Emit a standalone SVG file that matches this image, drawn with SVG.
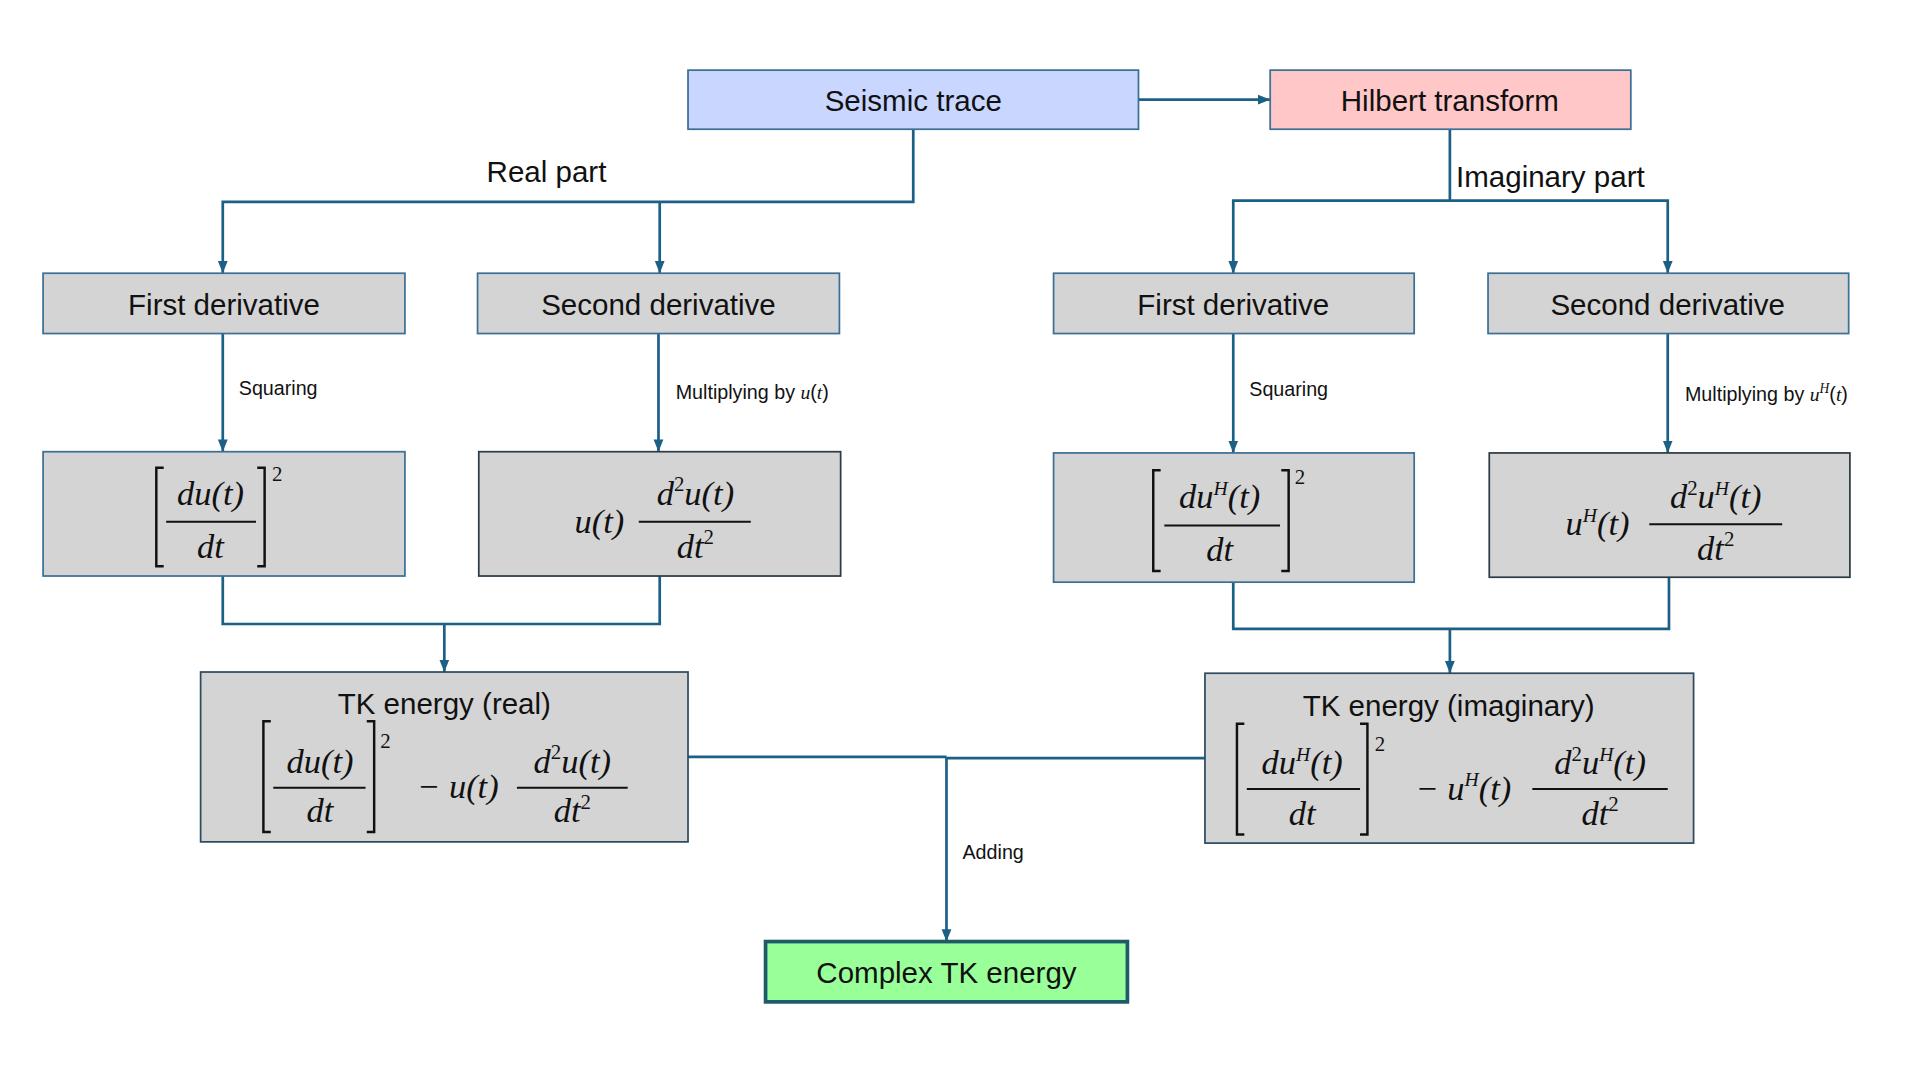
<svg xmlns="http://www.w3.org/2000/svg" width="1920" height="1080" viewBox="0 0 1920 1080">
<defs>
<marker id="ah" markerUnits="userSpaceOnUse" markerWidth="10" markerHeight="10" viewBox="0 0 10 10" refX="10" refY="5" orient="auto"><path d="M0,1 L10,5 L0,9 z" fill="#1d6086"/></marker>
<style>
.box{fill:#d4d4d4;stroke:#3b6f95;stroke-width:1.4}
.lbl{font-family:"Liberation Sans",Arial,sans-serif;font-size:24px;fill:#111;text-anchor:middle}
.sm{font-family:"Liberation Sans",Arial,sans-serif;font-size:16px;fill:#111}
.m{font-family:"Liberation Serif","Times New Roman",serif;font-style:italic;font-size:28px;fill:#111;text-anchor:middle}
.mi{font-family:"Liberation Serif","Times New Roman",serif;font-style:italic;fill:#111}
.sup{font-family:"Liberation Serif",serif;font-size:17px;fill:#111}
.fr{stroke:#111;stroke-width:1.6;fill:none}
.br{stroke:#111;stroke-width:2;fill:none}
.c{stroke:#1d6086;stroke-width:2.2;fill:none}
</style>
</defs>
<rect width="1920" height="1080" fill="#fff"/>
<g transform="scale(1.2308)">
<g id="connectors">
<path class="c" d="M925,81 H1032" marker-end="url(#ah)"/>
<path class="c" d="M742,105 V164 H181 V222" marker-end="url(#ah)"/>
<path class="c" d="M536,164 V222" marker-end="url(#ah)"/>
<path class="c" d="M1178,105 V163 H1002 V222" marker-end="url(#ah)"/>
<path class="c" d="M1178,163 H1355 V222" marker-end="url(#ah)"/>
<path class="c" d="M181,271 V367" marker-end="url(#ah)"/>
<path class="c" d="M535,271 V367" marker-end="url(#ah)"/>
<path class="c" d="M1002,271 V368" marker-end="url(#ah)"/>
<path class="c" d="M1355,271 V368" marker-end="url(#ah)"/>
<path class="c" d="M181,468 V507 H536 V468"/>
<path class="c" d="M361,507 V546" marker-end="url(#ah)"/>
<path class="c" d="M1002,473 V511 H1356 V469"/>
<path class="c" d="M1178,511 V547" marker-end="url(#ah)"/>
<path class="c" d="M559,615 H769 M769,616 H979"/>
<path class="c" d="M769,615 V765" marker-end="url(#ah)"/>
<text class="lbl" x="444" y="148">Real part</text>
<text class="lbl" x="1183" y="152" style="text-anchor:start">Imaginary part</text>
<text class="sm" x="194" y="321">Squaring</text>
<text class="sm" x="549" y="324">Multiplying by <tspan class="mi">u</tspan>(<tspan class="mi">t</tspan>)</text>
<text class="sm" x="1015" y="322">Squaring</text>
<text class="sm" x="1369" y="326">Multiplying by <tspan class="mi">u</tspan><tspan class="mi" font-size="11" dy="-7">H</tspan><tspan dy="7">(</tspan><tspan class="mi">t</tspan>)</text>
<text class="sm" x="782" y="698">Adding</text>
</g>
<g id="seismic"><rect x="559" y="57" width="366" height="48" fill="#c9d6ff" stroke="#3b6f95" stroke-width="1.4"/><text class="lbl" x="742" y="90">Seismic trace</text></g>
<g id="hilbert"><rect x="1032" y="57" width="293" height="48" fill="#ffc7c7" stroke="#3b6f95" stroke-width="1.4"/><text class="lbl" x="1178" y="90">Hilbert transform</text></g>
<g id="fd1"><rect class="box" x="35" y="222" width="294" height="49"/><text class="lbl" x="182" y="256">First derivative</text></g>
<g id="sd1"><rect class="box" x="388" y="222" width="294" height="49"/><text class="lbl" x="535" y="256">Second derivative</text></g>
<g id="fd2"><rect class="box" x="856" y="222" width="293" height="49"/><text class="lbl" x="1002" y="256">First derivative</text></g>
<g id="sd2"><rect class="box" x="1209" y="222" width="293" height="49"/><text class="lbl" x="1355" y="256">Second derivative</text></g>

<g id="sq1"><rect class="box" x="35" y="367" width="294" height="101"/>
<path class="br" d="M133,380 H127 V460 H133 M209,380 H215 V460 H209"/>
<text class="m" x="171" y="410">du(t)</text><line class="fr" x1="135" y1="424" x2="208" y2="424"/><text class="m" x="171" y="453">dt</text>
<text class="sup" x="221" y="391">2</text></g>

<g id="mu1"><rect class="box" x="389" y="367" width="294" height="101" style="stroke:#2d3b45"/>
<text class="m" x="487" y="433">u(t)</text>
<text class="m" x="565" y="410">d<tspan font-size="17" dy="-11" font-style="normal">2</tspan><tspan dy="11">u(t)</tspan></text>
<line class="fr" x1="519" y1="424" x2="610" y2="424"/>
<text class="m" x="565" y="453">dt<tspan font-size="17" dy="-11" font-style="normal">2</tspan></text></g>

<g id="sq2"><rect class="box" x="856" y="368" width="293" height="105"/>
<path class="br" d="M943,382 H937 V464 H943 M1041,382 H1047 V464 H1041"/>
<text class="m" x="991" y="413">du<tspan font-size="16" dy="-11">H</tspan><tspan dy="11">(t)</tspan></text><line class="fr" x1="946" y1="427" x2="1040" y2="427"/><text class="m" x="991" y="456">dt</text>
<text class="sup" x="1052" y="393">2</text></g>

<g id="mu2"><rect class="box" x="1210" y="368" width="293" height="101" style="stroke:#2d3b45"/>
<text class="m" x="1298" y="435">u<tspan font-size="16" dy="-11">H</tspan><tspan dy="11">(t)</tspan></text>
<text class="m" x="1394" y="413">d<tspan font-size="17" dy="-11" font-style="normal">2</tspan><tspan dy="11">u</tspan><tspan font-size="16" dy="-11">H</tspan><tspan dy="11">(t)</tspan></text>
<line class="fr" x1="1340" y1="426" x2="1448" y2="426"/>
<text class="m" x="1394" y="455">dt<tspan font-size="17" dy="-11" font-style="normal">2</tspan></text></g>

<g id="tkreal"><rect class="box" x="163" y="546" width="396" height="138" style="stroke:#2d4a5e"/>
<text class="lbl" x="361" y="580">TK energy (real)</text>
<path class="br" d="M220,586 H214 V676 H220 M298,586 H304 V676 H298"/>
<text class="m" x="260" y="628">du(t)</text><line class="fr" x1="222" y1="640" x2="297" y2="640"/><text class="m" x="260" y="668">dt</text>
<text class="sup" x="309" y="608">2</text>
<text class="m" x="372" y="648">− u(t)</text>
<text class="m" x="465" y="628">d<tspan font-size="17" dy="-11" font-style="normal">2</tspan><tspan dy="11">u(t)</tspan></text>
<line class="fr" x1="420" y1="640" x2="510" y2="640"/>
<text class="m" x="465" y="668">dt<tspan font-size="17" dy="-11" font-style="normal">2</tspan></text></g>

<g id="tkimag"><rect class="box" x="979" y="547" width="397" height="138" style="stroke:#2d4a5e"/>
<text class="lbl" x="1177" y="582">TK energy (imaginary)</text>
<path class="br" d="M1011,588 H1005 V678 H1011 M1105,588 H1111 V678 H1105"/>
<text class="m" x="1058" y="629">du<tspan font-size="16" dy="-11">H</tspan><tspan dy="11">(t)</tspan></text><line class="fr" x1="1013" y1="641" x2="1105" y2="641"/><text class="m" x="1058" y="670">dt</text>
<text class="sup" x="1117" y="610">2</text>
<text class="m" x="1189" y="650">− u<tspan font-size="16" dy="-11">H</tspan><tspan dy="11">(t)</tspan></text>
<text class="m" x="1300" y="629">d<tspan font-size="17" dy="-11" font-style="normal">2</tspan><tspan dy="11">u</tspan><tspan font-size="16" dy="-11">H</tspan><tspan dy="11">(t)</tspan></text>
<line class="fr" x1="1245" y1="641" x2="1355" y2="641"/>
<text class="m" x="1300" y="670">dt<tspan font-size="17" dy="-11" font-style="normal">2</tspan></text></g>

<g id="complex"><rect x="622" y="765" width="294" height="49" fill="#99ff99" stroke="#1f5a6a" stroke-width="3"/><text class="lbl" x="769" y="799">Complex TK energy</text></g>
</g>
</svg>
